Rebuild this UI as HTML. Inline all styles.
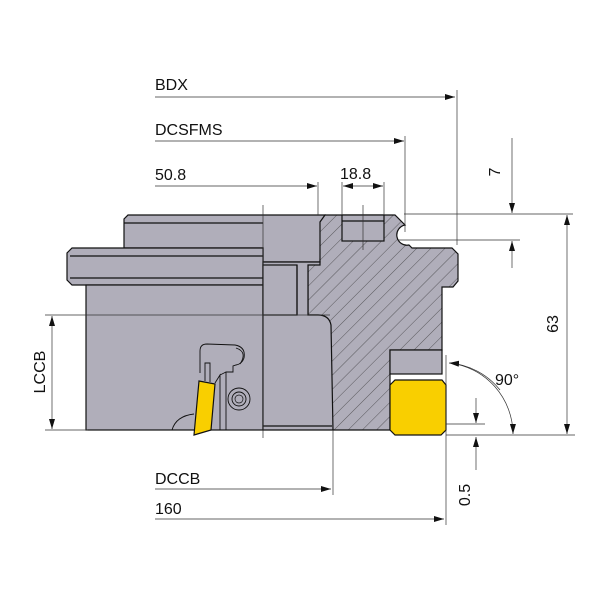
<!DOCTYPE html>
<html><head><meta charset="utf-8"><style>html,body{margin:0;padding:0;background:#fff}svg{display:block}</style></head>
<body>
<svg width="600" height="600" viewBox="0 0 600 600" xmlns="http://www.w3.org/2000/svg" font-family="'Liberation Sans','DejaVu Sans',sans-serif">
<defs>
<pattern id="h" patternUnits="userSpaceOnUse" width="10" height="10" patternTransform="rotate(45)">
<rect width="10" height="10" fill="#b0aeba"/>
<line x1="0" y1="0" x2="0" y2="10" stroke="#333" stroke-width="0.7"/>
</pattern>
<marker id="a" viewBox="0 0 10 6" refX="10" refY="3" markerWidth="10" markerHeight="6" orient="auto" markerUnits="userSpaceOnUse"><path d="M0,0L10,3L0,6z" fill="#111"/></marker>
</defs>
<g stroke="#111" stroke-width="1.2" fill="#b0aeba">
<path d="M128,215 L325,215 L321,222 L320,262 L263,262 L263,248 L124,248 L124,219 Z"/>
<path d="M72,248 L263,248 L263,285 L72,285 L67,280 L67,253 Z"/>
<line x1="70" y1="256" x2="263" y2="256"/>
<line x1="70" y1="278" x2="263" y2="278"/>
<line x1="124" y1="223" x2="263" y2="223"/>
<rect x="86" y="285" width="177" height="145"/>
<path d="M325,215 L395,215 L405,225 A6,6 0 0 0 409,245 L412,248 L452,248 L458,254 L458,281 L453,287 L442,287 L442,350 L390,350 L390,430 L333,430 L329,425 L329,325 Q329,315 318,315 L308,315 L308,265 L320,262 L320,222 Z" fill="url(#h)"/>
<rect x="342" y="215" width="42" height="26" fill="#b0aeba"/>
<line x1="342" y1="221" x2="384" y2="221"/>
<path d="M263,262 L320,262 L320,265 L308,265 L308,315 L318,315 Q329,315 331,325 L333,430 L263,430 Z"/>
<rect x="263" y="265" width="34" height="50"/>
<line x1="297" y1="265" x2="297" y2="315"/>
<line x1="263" y1="426" x2="332" y2="426"/>
<rect x="390" y="350" width="52" height="24"/>
<path d="M395,380 L442,380 L446,385 L446,430 L441,435 L395,435 L390,430 L390,385 Z" fill="#f9cf00"/>
<path d="M200,373 L200,351 Q200,344 207,344 L235,345 Q246,347 244,358 Q242,364 236,365 L233,366 L233,372 L226,372 L226,430" fill="none" stroke-width="0.9"/>
<path d="M236,348 Q248,352 240,364" fill="none" stroke-width="0.9"/>
<path d="M220,375 L226,372" fill="none" stroke-width="0.9"/>
<path d="M215,383 L220,375 L220,430" fill="none" stroke-width="0.9"/>
<path d="M205,381 L205,363 L210,363 L210,382" fill="none" stroke-width="0.9"/>
<circle cx="239" cy="399" r="11" fill="none" stroke-width="0.9"/>
<circle cx="239" cy="399" r="7" fill="none" stroke-width="0.9"/>
<circle cx="239" cy="399" r="4" fill="none" stroke-width="0.7"/>
<path d="M172,430 Q176,416 194,414" fill="none" stroke-width="0.9"/>
<path d="M199,381 L215,384 L211,430 L194,435 Z" fill="#f9cf00"/>
</g>
<g stroke="#333" stroke-width="0.7" fill="none">
<line x1="263" y1="205" x2="263" y2="438"/>
<line x1="363" y1="205" x2="363" y2="250"/>
<line x1="155" y1="97" x2="455" y2="97" marker-end="url(#a)"/>
<line x1="457" y1="90" x2="457" y2="245"/>
<line x1="155" y1="141" x2="404" y2="141" marker-end="url(#a)"/>
<line x1="405" y1="136" x2="405" y2="232"/>
<line x1="155" y1="186" x2="317" y2="186" marker-end="url(#a)"/>
<line x1="318" y1="182" x2="318" y2="215"/>
<line x1="342" y1="182" x2="342" y2="215"/>
<line x1="384" y1="182" x2="384" y2="215"/>
<line x1="363" y1="186" x2="343" y2="186" marker-end="url(#a)"/>
<line x1="363" y1="186" x2="383" y2="186" marker-end="url(#a)"/>
<line x1="404" y1="214" x2="573" y2="214"/>
<line x1="398" y1="240" x2="520" y2="240"/>
<line x1="512" y1="138" x2="512" y2="213" marker-end="url(#a)"/>
<line x1="512" y1="268" x2="512" y2="241" marker-end="url(#a)"/>
<line x1="567" y1="324" x2="567" y2="215" marker-end="url(#a)"/>
<line x1="567" y1="324" x2="567" y2="434" marker-end="url(#a)"/>
<line x1="446" y1="435" x2="575" y2="435"/>
<line x1="446" y1="355" x2="446" y2="525"/>
<line x1="446" y1="424" x2="485" y2="424"/>
<line x1="476" y1="398" x2="476" y2="423" marker-end="url(#a)"/>
<line x1="476" y1="470" x2="476" y2="437" marker-end="url(#a)"/>
<path d="M450,363 A72,72 0 0 1 513,434" marker-end="url(#a)"/>
<path d="M500,390 A72,72 0 0 0 449,363" marker-end="url(#a)"/>
<line x1="45" y1="315" x2="330" y2="315"/>
<line x1="45" y1="430" x2="88" y2="430"/>
<line x1="52" y1="372" x2="52" y2="316" marker-end="url(#a)"/>
<line x1="52" y1="372" x2="52" y2="429" marker-end="url(#a)"/>
<line x1="333" y1="430" x2="333" y2="495"/>
<line x1="155" y1="489" x2="331" y2="489" marker-end="url(#a)"/>
<line x1="155" y1="519" x2="444" y2="519" marker-end="url(#a)"/>
</g>
<g font-size="16" fill="#111">
<text x="155" y="90">BDX</text>
<text x="155" y="135">DCSFMS</text>
<text x="155" y="180">50.8</text>
<text x="340" y="179">18.8</text>
<text x="155" y="484">DCCB</text>
<text x="155" y="514">160</text>
<text x="495" y="385">90°</text>
<text transform="translate(500,172) rotate(-90)" text-anchor="middle">7</text>
<text transform="translate(558,324) rotate(-90)" text-anchor="middle">63</text>
<text transform="translate(45,372) rotate(-90)" text-anchor="middle">LCCB</text>
<text transform="translate(470,495) rotate(-90)" text-anchor="middle">0.5</text>
</g>
</svg>
</body></html>
